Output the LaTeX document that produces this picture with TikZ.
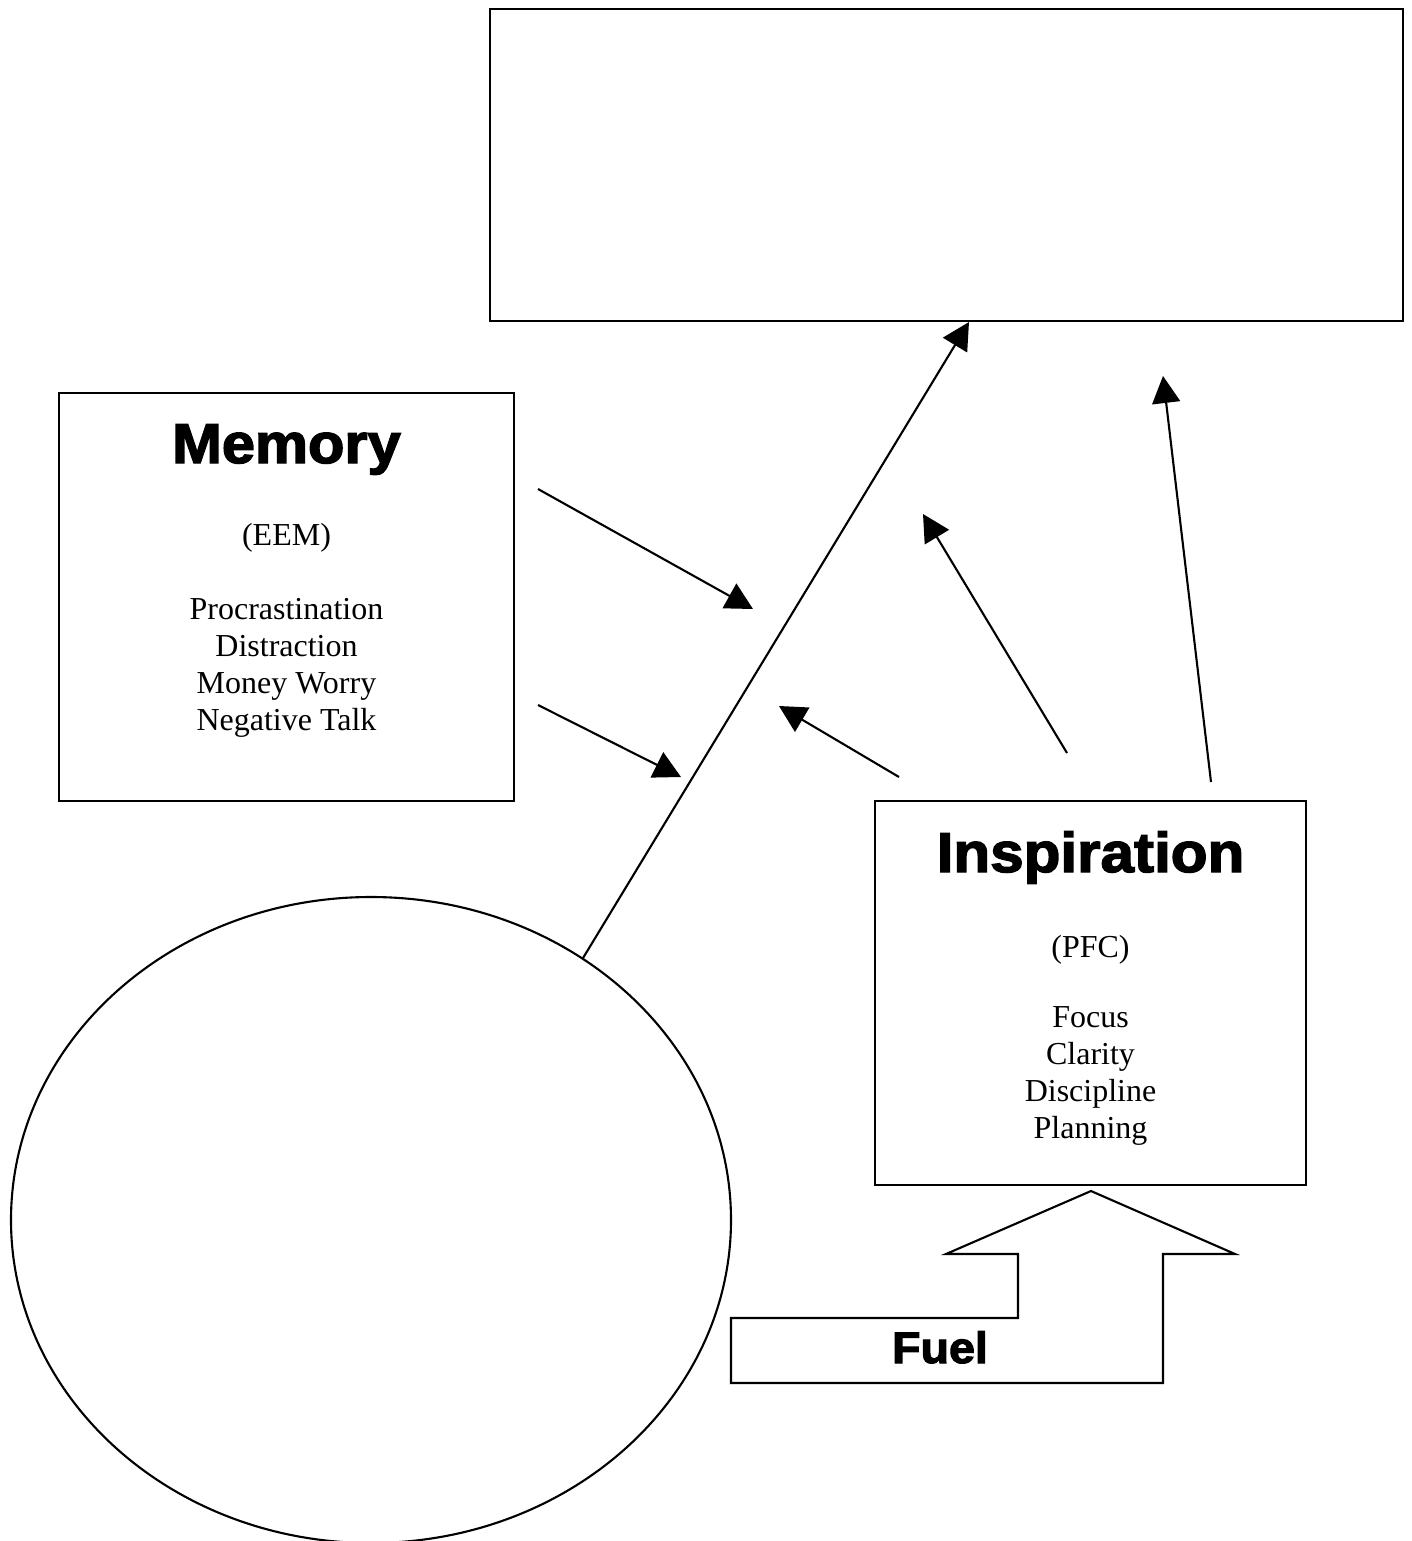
\documentclass[tikz,border=0pt]{standalone}
\usepackage{fontspec}
\setmainfont{Liberation Serif}
\newfontfamily\headfont{Liberation Sans}[BoldFeatures={FakeBold=2.5}]
\usetikzlibrary{arrows.meta,shapes.geometric}

\begin{document}
\begin{tikzpicture}[
  box/.style={draw, line width=0.6pt, inner sep=0pt, outer sep=0pt, anchor=north west},
  head/.style={anchor=base, inner sep=0pt, font=\headfont\bfseries\fontsize{16}{19}\selectfont},
  lbl/.style={anchor=base, align=center, inner sep=0pt, font=\fontsize{9.1}{10.5}\selectfont},
  arr/.style={-{Triangle[length=2.7mm,width=2.8mm]}, line width=0.6pt}
]
\useasboundingbox (0,0) rectangle (14.11,-15.41);

\node[box, minimum width=9.13cm, minimum height=3.12cm] (outcome) at (4.90,-0.09) {};
\node[box, minimum width=4.55cm, minimum height=4.08cm] (memory) at (0.59,-3.93) {};
\node[box, minimum width=4.31cm, minimum height=3.84cm] (inspire) at (8.75,-8.01) {};
\node[ellipse, draw, line width=0.6pt, minimum width=7.2cm, minimum height=6.46cm,
      inner sep=0pt, outer sep=0pt] (brain) at (3.71,-12.20) {};

\node[head] (memtitle) at (2.865,-4.63) {\scalebox{1.06}[1]{Memory}};
\node[lbl] (memtext) at (2.865,-7.30)
  {(EEM)\\[10.5pt]Procrastination\\Distraction\\Money Worry\\Negative Talk};

\node[head] (insptitle) at (10.905,-8.72) {\scalebox{1.07}[1]{Inspiration}};
\node[lbl] (insptext) at (10.905,-11.38)
  {(PFC)\\[9.4pt]Focus\\Clarity\\Discipline\\Planning};

% fuel arrow
\draw[line width=0.6pt] (7.31,-13.83) -- (7.31,-13.18) -- (10.18,-13.18) -- (10.18,-12.54)
  -- (9.46,-12.54) -- (10.91,-11.91) -- (12.35,-12.54) -- (11.63,-12.54)
  -- (11.63,-13.83) -- cycle;
\node[head, font=\headfont\bfseries\fontsize{12.5}{15}\selectfont] (fuel) at (9.40,-13.63)
  {\scalebox{1.06}[1]{Fuel}};

\coordinate (m1a) at (5.38,-4.89);
\coordinate (m1b) at (7.53,-6.09);
\coordinate (m2a) at (5.38,-7.05);
\coordinate (m2b) at (6.81,-7.77);
\coordinate (i1a) at (8.99,-7.77);
\coordinate (i1b) at (7.79,-7.06);
\coordinate (i2a) at (10.67,-7.53);
\coordinate (i2b) at (9.23,-5.14);
\coordinate (i3a) at (12.11,-7.82);
\coordinate (i3b) at (11.63,-3.76);
\coordinate (hit) at (9.69,-3.22);

\draw[arr] (m1a) -- (m1b);
\draw[arr] (m2a) -- (m2b);
\draw[arr] (i1a) -- (i1b);
\draw[arr] (i2a) -- (i2b);
\draw[arr] (i3a) -- (i3b);
\draw[arr] (brain.51.7) -- (hit);

\end{tikzpicture}
\end{document}
